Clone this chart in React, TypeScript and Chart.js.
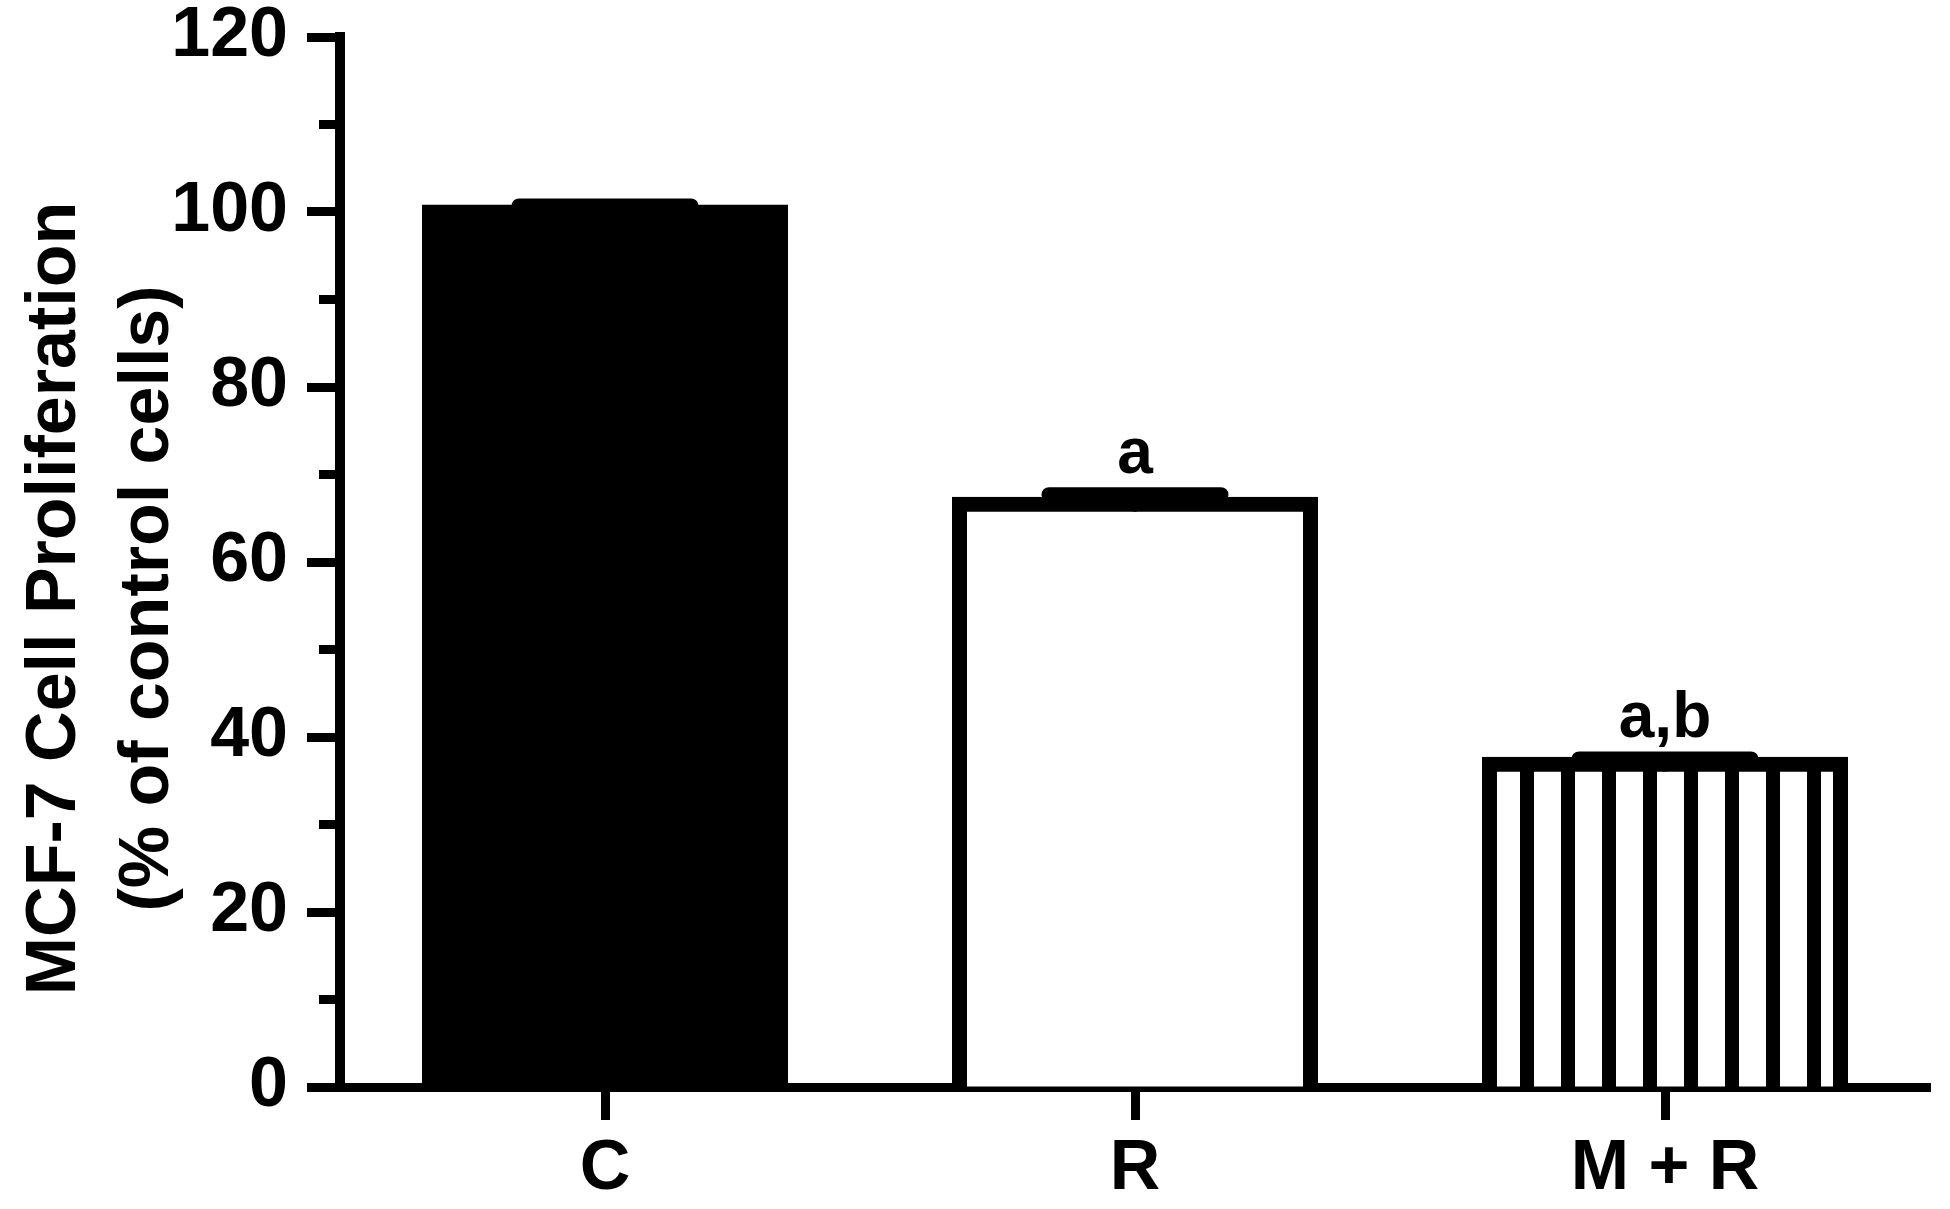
import React, { useEffect, useRef } from 'react';
import { Chart, registerables } from 'chart.js';

Chart.register(...registerables);

// ---- data ----
const categories = ['C', 'R', 'M + R'];
const proliferation = [100, 66.6, 36.9];
const sem = [0.7, 1.1, 0.6];
const significance = ['', 'a', 'a,b'];
const yTitleLines = ['MCF-7 Cell Proliferation', '(% of control cells)'];
const yMin = 0;
const yMax = 120;
const yMajorStep = 20;
const yMinorStep = 10;

const FONT = "'Liberation Sans', Arial, Helvetica, sans-serif";

function makeStripePattern(ctx: CanvasRenderingContext2D) {
  const c = document.createElement('canvas');
  c.width = 41;
  c.height = 8;
  const g = c.getContext('2d') as CanvasRenderingContext2D;
  g.fillStyle = '#ffffff';
  g.fillRect(0, 0, 41, 8);
  g.fillStyle = '#000000';
  g.fillRect(3, 0, 14, 8);
  return ctx.createPattern(c, 'repeat');
}

const errorBarPlugin = {
  id: 'errorBarsAndLetters',
  afterDatasetsDraw(chart: any) {
    const meta = chart.getDatasetMeta(0);
    const y = chart.scales.y;
    const ctx = chart.ctx as CanvasRenderingContext2D;
    ctx.save();
    ctx.strokeStyle = '#000';
    ctx.lineWidth = 15;
    ctx.lineCap = 'round';
    meta.data.forEach((bar: any, i: number) => {
      const v = proliferation[i];
      const e = sem[i];
      const yTop = y.getPixelForValue(v + e);
      const yBase = y.getPixelForValue(v);
      const half = bar.width * 0.245;
      ctx.beginPath();
      ctx.moveTo(bar.x, yBase);
      ctx.lineTo(bar.x, yTop);
      ctx.moveTo(bar.x - half, yTop);
      ctx.lineTo(bar.x + half, yTop);
      ctx.stroke();
      if (significance[i]) {
        ctx.font = `bold 64px ${FONT}`;
        ctx.fillStyle = '#000';
        ctx.textAlign = 'center';
        ctx.textBaseline = 'alphabetic';
        ctx.fillText(significance[i], bar.x, yTop - 22);
      }
    });
    ctx.restore();
  },
};

const zeroPad = (s: any) => {
  s.paddingTop = 0;
  s.paddingBottom = 0;
  s.paddingLeft = 0;
  s.paddingRight = 0;
};

export default function App() {
  const canvasRef = useRef<HTMLCanvasElement | null>(null);

  useEffect(() => {
    const canvas = canvasRef.current;
    if (!canvas) return;
    const ctx = canvas.getContext('2d') as CanvasRenderingContext2D;
    const pattern = makeStripePattern(ctx);

    const tickFont = { family: FONT, size: 70, weight: 'bold' as const, lineHeight: 1.2 };

    const chart = new Chart(canvas, {
      type: 'bar',
      data: {
        labels: categories,
        datasets: [
          {
            data: proliferation,
            backgroundColor: ['#000000', '#ffffff', pattern as any],
            borderColor: '#000000',
            borderWidth: 15,
            inflateAmount: 7.5,
            barPercentage: 0.6623,
            categoryPercentage: 1,
            xAxisID: 'x',
            yAxisID: 'y',
          } as any,
        ],
      },
      options: {
        responsive: false,
        animation: false,
        devicePixelRatio: 1,
        layout: { padding: { top: 0, right: 20, bottom: 12, left: 0 } },
        plugins: {
          legend: { display: false },
          tooltip: { enabled: false },
        },
        scales: {
          x: {
            type: 'category',
            position: 'bottom',
            offset: true,
            z: 1,
            afterFit: (s: any) => {
              s.height = 110;
              zeroPad(s);
            },
            grid: {
              display: true,
              drawOnChartArea: false,
              drawTicks: true,
              offset: false,
              tickLength: 33,
              tickWidth: 9,
              tickColor: '#000',
              lineWidth: 1,
              color: '#000',
            },
            border: { display: true, width: 9, color: '#000' },
            ticks: {
              color: '#000',
              font: tickFont,
              padding: 8,
              maxRotation: 0,
              autoSkip: false,
            },
          },
          xTop: {
            type: 'category',
            position: 'top',
            offset: true,
            afterFit: (s: any) => {
              s.height = 37;
              zeroPad(s);
            },
            grid: { display: false },
            border: { display: false },
            ticks: { display: false },
          },
          y: {
            type: 'linear',
            position: 'left',
            weight: 1,
            min: yMin,
            max: yMax,
            afterFit: (s: any) => {
              s.width = 170;
              zeroPad(s);
            },
            grid: {
              display: true,
              drawOnChartArea: false,
              drawTicks: true,
              tickLength: 33,
              tickWidth: 9,
              tickColor: '#000',
              lineWidth: 1,
              color: '#000',
            },
            border: { display: true, width: 10, color: '#000' },
            ticks: {
              stepSize: yMajorStep,
              color: '#000',
              font: tickFont,
              padding: 19,
              labelOffset: 0,
            },
          },
          yMinor: {
            type: 'linear',
            position: 'left',
            weight: 0,
            min: yMin,
            max: yMax,
            afterFit: (s: any) => {
              s.width = 0;
              zeroPad(s);
            },
            grid: {
              display: true,
              drawOnChartArea: false,
              drawTicks: true,
              tickLength: 21,
              tickWidth: 9,
              tickColor: '#000',
              lineWidth: 1,
            },
            border: { display: false },
            ticks: { display: false, stepSize: yMinorStep },
          },
          yTitle: {
            type: 'linear',
            position: 'left',
            weight: 2,
            fullSize: true,
            afterFit: (s: any) => {
              s.width = 170;
              zeroPad(s);
            },
            grid: { display: false },
            border: { display: false },
            ticks: { display: false },
            title: {
              display: true,
              text: yTitleLines,
              color: '#000',
              font: { family: FONT, size: 70, weight: 'bold', lineHeight: 93 / 70 },
              padding: { top: 9.5, bottom: 0 },
            },
          },
        } as any,
      },
      plugins: [errorBarPlugin],
    });

    return () => {
      chart.destroy();
    };
  }, []);

  return (
    <div
      style={{
        position: 'fixed',
        left: 0,
        top: 0,
        width: 1950,
        height: 1209,
        background: '#ffffff',
      }}
    >
      <canvas ref={canvasRef} width={1950} height={1209} style={{ display: 'block' }} />
    </div>
  );
}
